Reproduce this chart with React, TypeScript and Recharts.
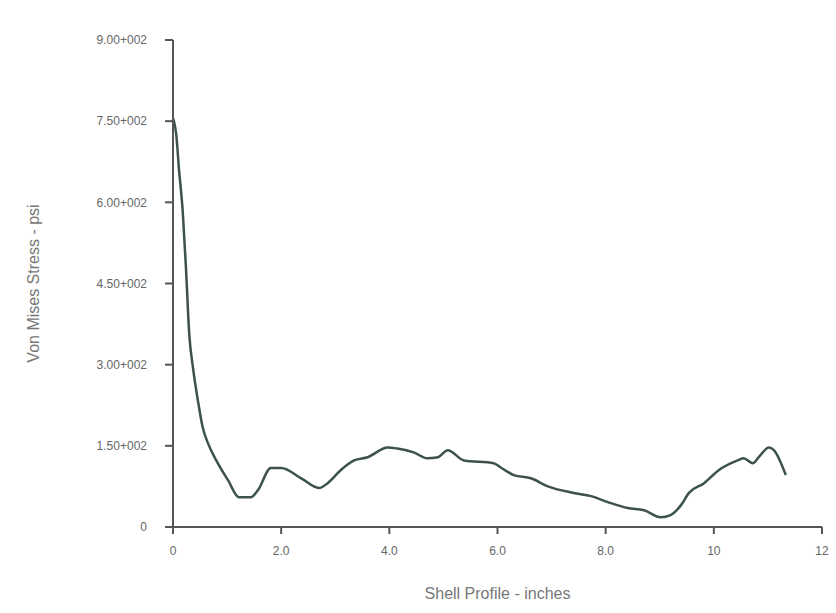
import { LineChart, Line, XAxis, YAxis } from "recharts";

const profileInches = [
  0, 0.02, 0.06, 0.11, 0.18, 0.24, 0.3, 0.37, 0.46, 0.55, 0.65, 0.8, 1.02, 1.22,
  1.44, 1.57, 1.81, 2.0, 2.37, 2.7, 2.86, 3.1, 3.35, 3.6, 3.97, 4.15, 4.45, 4.7,
  4.9, 5.08, 5.38, 5.93, 6.06, 6.3, 6.62, 6.93, 7.41, 7.73, 8.04, 8.41, 8.71,
  9.02, 9.2, 9.39, 9.54, 9.82, 10.09, 10.44, 10.55, 10.72, 10.83, 11.02, 11.11,
  11.33,
];

const vonMisesStress = [
  755, 749, 725, 662, 583, 478, 357, 294, 234, 184, 154, 123, 86, 55, 55, 68,
  109, 109, 90, 72, 81, 105, 123, 129, 147, 145, 138, 127, 129, 142, 123, 118,
  110, 96, 90, 75, 63, 57, 46, 35, 31, 18, 22, 40, 63, 81, 105, 123, 127, 118,
  129, 147, 142, 96,
];

const yTicks = [0, 150, 300, 450, 600, 750, 900];
const yTickLabels = ["0", "1.50+002", "3.00+002", "4.50+002", "6.00+002", "7.50+002", "9.00+002"];
const xTicks = [0, 2, 4, 6, 8, 10, 12];
const xTickLabels = ["0", "2.0", "4.0", "6.0", "8.0", "10", "12"];

const data = profileInches.map((x, i) => ({ x, stress: vonMisesStress[i] }));

const tickStyle = { fill: "#666", fontSize: 12, fontFamily: "Liberation Sans, Arial, sans-serif" };

export default function App() {
  return (
    <div style={{ position: "absolute", left: 0, top: 0, width: 836, height: 613, background: "#fff" }}>
      <LineChart width={836} height={613} data={data} margin={{ top: 40, right: 14, bottom: 56, left: 53 }}>
        <XAxis
          dataKey="x"
          type="number"
          domain={[0, 12]}
          ticks={xTicks}
          tickFormatter={(v: number) => xTickLabels[xTicks.indexOf(v)] ?? String(v)}
          stroke="#555"
          strokeWidth={2}
          tickSize={7}
          tickMargin={12}
          tick={tickStyle}
          height={30}
          label={{
            value: "Shell Profile - inches",
            position: "insideBottom",
            offset: -42,
            fill: "#777",
            fontSize: 16,
            fontFamily: "Liberation Sans, Arial, sans-serif",
          }}
        />
        <YAxis
          type="number"
          domain={[0, 900]}
          ticks={yTicks}
          tickFormatter={(v: number) => yTickLabels[yTicks.indexOf(v)] ?? String(v)}
          stroke="#555"
          strokeWidth={2}
          tickSize={8}
          tickMargin={18}
          tick={tickStyle}
          width={120}
          label={{
            value: "Von Mises Stress - psi",
            angle: -90,
            position: "insideLeft",
            offset: -20,
            fill: "#777",
            fontSize: 16,
            fontFamily: "Liberation Sans, Arial, sans-serif",
            style: { textAnchor: "middle" },
          }}
        />
        <Line
          type="monotone"
          dataKey="stress"
          stroke="#3d524e"
          strokeWidth={2.5}
          dot={false}
          isAnimationActive={false}
        />
      </LineChart>
    </div>
  );
}
